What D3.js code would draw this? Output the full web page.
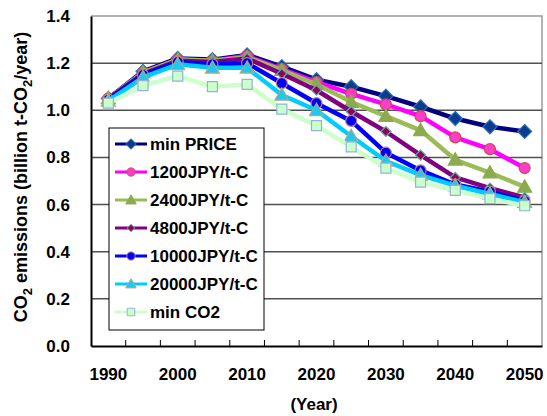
<!DOCTYPE html>
<html>
<head>
<meta charset="utf-8">
<script src="https://cdn.jsdelivr.net/npm/d3@7"></script>
<style>
  html, body { margin: 0; padding: 0; background: #fff; }
  svg { display: block; font-family: "Liberation Sans", Arial, sans-serif; font-weight: bold; }
</style>
</head>
<body>
<svg id="chart" width="547" height="416"></svg>
<script>
// Emission pathways, billion t-CO2 per year, 1990-2050 in 5-year steps
const years = [1990, 1995, 2000, 2005, 2010, 2015, 2020, 2025, 2030, 2035, 2040, 2045, 2050];
const yearLabels = [1990, 2000, 2010, 2020, 2030, 2040, 2050];
const yTicks = [0, 0.2, 0.4, 0.6, 0.8, 1.0, 1.2, 1.4];

const seriesNames = ["min PRICE", "1200JPY/t-C", "2400JPY/t-C", "4800JPY/t-C", "10000JPY/t-C", "20000JPY/t-C", "min CO2"];
const minPrice = [1.05, 1.165, 1.22, 1.215, 1.235, 1.185, 1.13, 1.10, 1.06, 1.015, 0.965, 0.93, 0.91];
const p1200    = [1.05, 1.16, 1.215, 1.21, 1.23, 1.175, 1.12, 1.07, 1.025, 0.975, 0.885, 0.835, 0.755];
const p2400    = [1.05, 1.16, 1.215, 1.21, 1.225, 1.17, 1.11, 1.035, 0.975, 0.915, 0.79, 0.735, 0.675];
const p4800    = [1.05, 1.155, 1.21, 1.205, 1.22, 1.155, 1.085, 0.995, 0.91, 0.81, 0.715, 0.67, 0.63];
const p10000   = [1.045, 1.15, 1.205, 1.195, 1.2, 1.115, 1.03, 0.955, 0.82, 0.745, 0.685, 0.655, 0.615];
const p20000   = [1.04, 1.14, 1.195, 1.18, 1.18, 1.065, 1.0, 0.89, 0.785, 0.725, 0.68, 0.645, 0.61];
const minCO2   = [1.03, 1.105, 1.145, 1.10, 1.11, 1.005, 0.935, 0.845, 0.755, 0.695, 0.66, 0.625, 0.595];
const seriesValues = [minPrice, p1200, p2400, p4800, p10000, p20000, minCO2];

// Per-series drawing style
const styles = [
  { line: "#000080", shape: "diamond", r: 7,   fill: "#0A3D8F", stroke: "#2F6DB5" },
  { line: "#FF00FF", shape: "circle",  r: 5.5, fill: "#FF3CCB", stroke: "#C0504D" },
  { line: "#9BBB59", shape: "triangle",r: 7,   fill: "#8CAA4E", stroke: "#8CAA4E" },
  { line: "#800080", shape: "diamond", r: 5,   fill: "#9C0044", stroke: "#4BACC6" },
  { line: "#0000FF", shape: "circle",  r: 5.5, fill: "#0000FF", stroke: "#C08070" },
  { line: "#00CCFF", shape: "triangle",r: 7,   fill: "#1EC8F2", stroke: "#B8A878" },
  { line: "#CCFFCC", shape: "square",  r: 5,   fill: "#CCFFCC", stroke: "#8EB4D8" }
];

function markerPath(shape, r) {
  if (shape === "diamond") return `M0,${-r}L${r},0L0,${r}L${-r},0Z`;
  if (shape === "triangle") return `M0,${-r}L${r},${r * 0.75}L${-r},${r * 0.75}Z`;
  if (shape === "square") return `M${-r},${-r}H${r}V${r}H${-r}Z`;
  return `M${r},0A${r},${r} 0 1,1 ${-r},0A${r},${r} 0 1,1 ${r},0Z`;
}

const FS = 17;
const svg = d3.select("#chart");
const plotLeft = 91, plotRight = 542, plotTop = 16, plotBottom = 346;

const x = d3.scaleBand().domain(years).range([plotLeft, plotRight]).padding(0);
const y = d3.scaleLinear().domain([0, 1.4]).range([plotBottom, plotTop]);
const cx = d => x(d) + x.bandwidth() / 2;

// Plot frame (top and right edges)
svg.append("path")
  .attr("d", `M${plotLeft},${plotTop}H${plotRight}V${plotBottom}`)
  .attr("fill", "none").attr("stroke", "#9a9a9a").attr("stroke-width", 1.5);

// Horizontal gridlines
svg.append("g").selectAll("line").data(yTicks.filter(v => v > 0 && v < 1.4)).join("line")
  .attr("x1", plotLeft).attr("x2", plotRight)
  .attr("y1", d => y(d)).attr("y2", d => y(d))
  .attr("stroke", "#505050").attr("stroke-width", 1.5);

// Y axis
const yAxis = svg.append("g").attr("transform", `translate(${plotLeft},0)`)
  .call(d3.axisLeft(y).tickValues(yTicks).tickFormat(d3.format(".1f")).tickSize(0).tickPadding(21));
yAxis.select(".domain").attr("stroke", "#000").attr("stroke-width", 2);
yAxis.selectAll("text").attr("font-size", FS).attr("font-weight", "bold")
  .attr("font-family", "Liberation Sans, Arial, sans-serif").attr("fill", "#000");

// X axis (category axis, ticks at category boundaries)
const xAxis = svg.append("g").attr("transform", `translate(0,${plotBottom})`)
  .call(d3.axisBottom(x).tickValues(yearLabels).tickSize(0).tickPadding(22));
xAxis.select(".domain").attr("stroke", "#000").attr("stroke-width", 2);
xAxis.selectAll("text").attr("font-size", FS).attr("font-weight", "bold")
  .attr("font-family", "Liberation Sans, Arial, sans-serif").attr("fill", "#000");
svg.append("g").selectAll("line").data(years.slice(1)).join("line")
  .attr("x1", d => x(d)).attr("x2", d => x(d))
  .attr("y1", plotBottom).attr("y2", plotBottom - 6)
  .attr("stroke", "#000").attr("stroke-width", 1);

// Axis titles
svg.append("text")
  .attr("x", 314).attr("y", 410).attr("text-anchor", "middle")
  .attr("font-size", FS).text("(Year)");

const yt = svg.append("text")
  .attr("transform", "translate(27,177) rotate(-90)")
  .attr("text-anchor", "middle").attr("font-size", 18);
yt.append("tspan").text("CO");
yt.append("tspan").attr("font-size", 13).attr("dy", 5).text("2");
yt.append("tspan").attr("dy", -5).text(" emissions (billion t-CO");
yt.append("tspan").attr("font-size", 13).attr("dy", 5).text("2");
yt.append("tspan").attr("dy", -5).text("/year)");

// Series lines and markers
const line = d3.line().x((d, i) => cx(years[i])).y(d => y(d));
seriesValues.forEach((vals, s) => {
  const st = styles[s];
  const g = svg.append("g");
  g.append("path").datum(vals).attr("d", line)
    .attr("fill", "none").attr("stroke", st.line).attr("stroke-width", 4.5)
    .attr("stroke-linejoin", "round");
  g.selectAll("path.m").data(vals).join("path").attr("class", "m")
    .attr("transform", (d, i) => `translate(${cx(years[i])},${y(d)})`)
    .attr("d", markerPath(st.shape, st.r))
    .attr("fill", st.fill).attr("stroke", st.stroke).attr("stroke-width", 1.2);
});

// Legend
const lg = svg.append("g");
lg.append("rect").attr("x", 109).attr("y", 128).attr("width", 155).attr("height", 202)
  .attr("fill", "#fff").attr("stroke", "#000").attr("stroke-width", 1);
seriesNames.forEach((name, s) => {
  const st = styles[s];
  const yy = 144 + s * 28;
  lg.append("line").attr("x1", 115).attr("x2", 147).attr("y1", yy).attr("y2", yy)
    .attr("stroke", st.line).attr("stroke-width", 3);
  lg.append("path").attr("transform", `translate(131,${yy})`)
    .attr("d", markerPath(st.shape, st.r * 0.75))
    .attr("fill", st.fill).attr("stroke", st.stroke).attr("stroke-width", 1);
  lg.append("text").attr("x", 150).attr("y", yy + 6).attr("font-size", FS).text(name);
});
</script>
</body>
</html>
